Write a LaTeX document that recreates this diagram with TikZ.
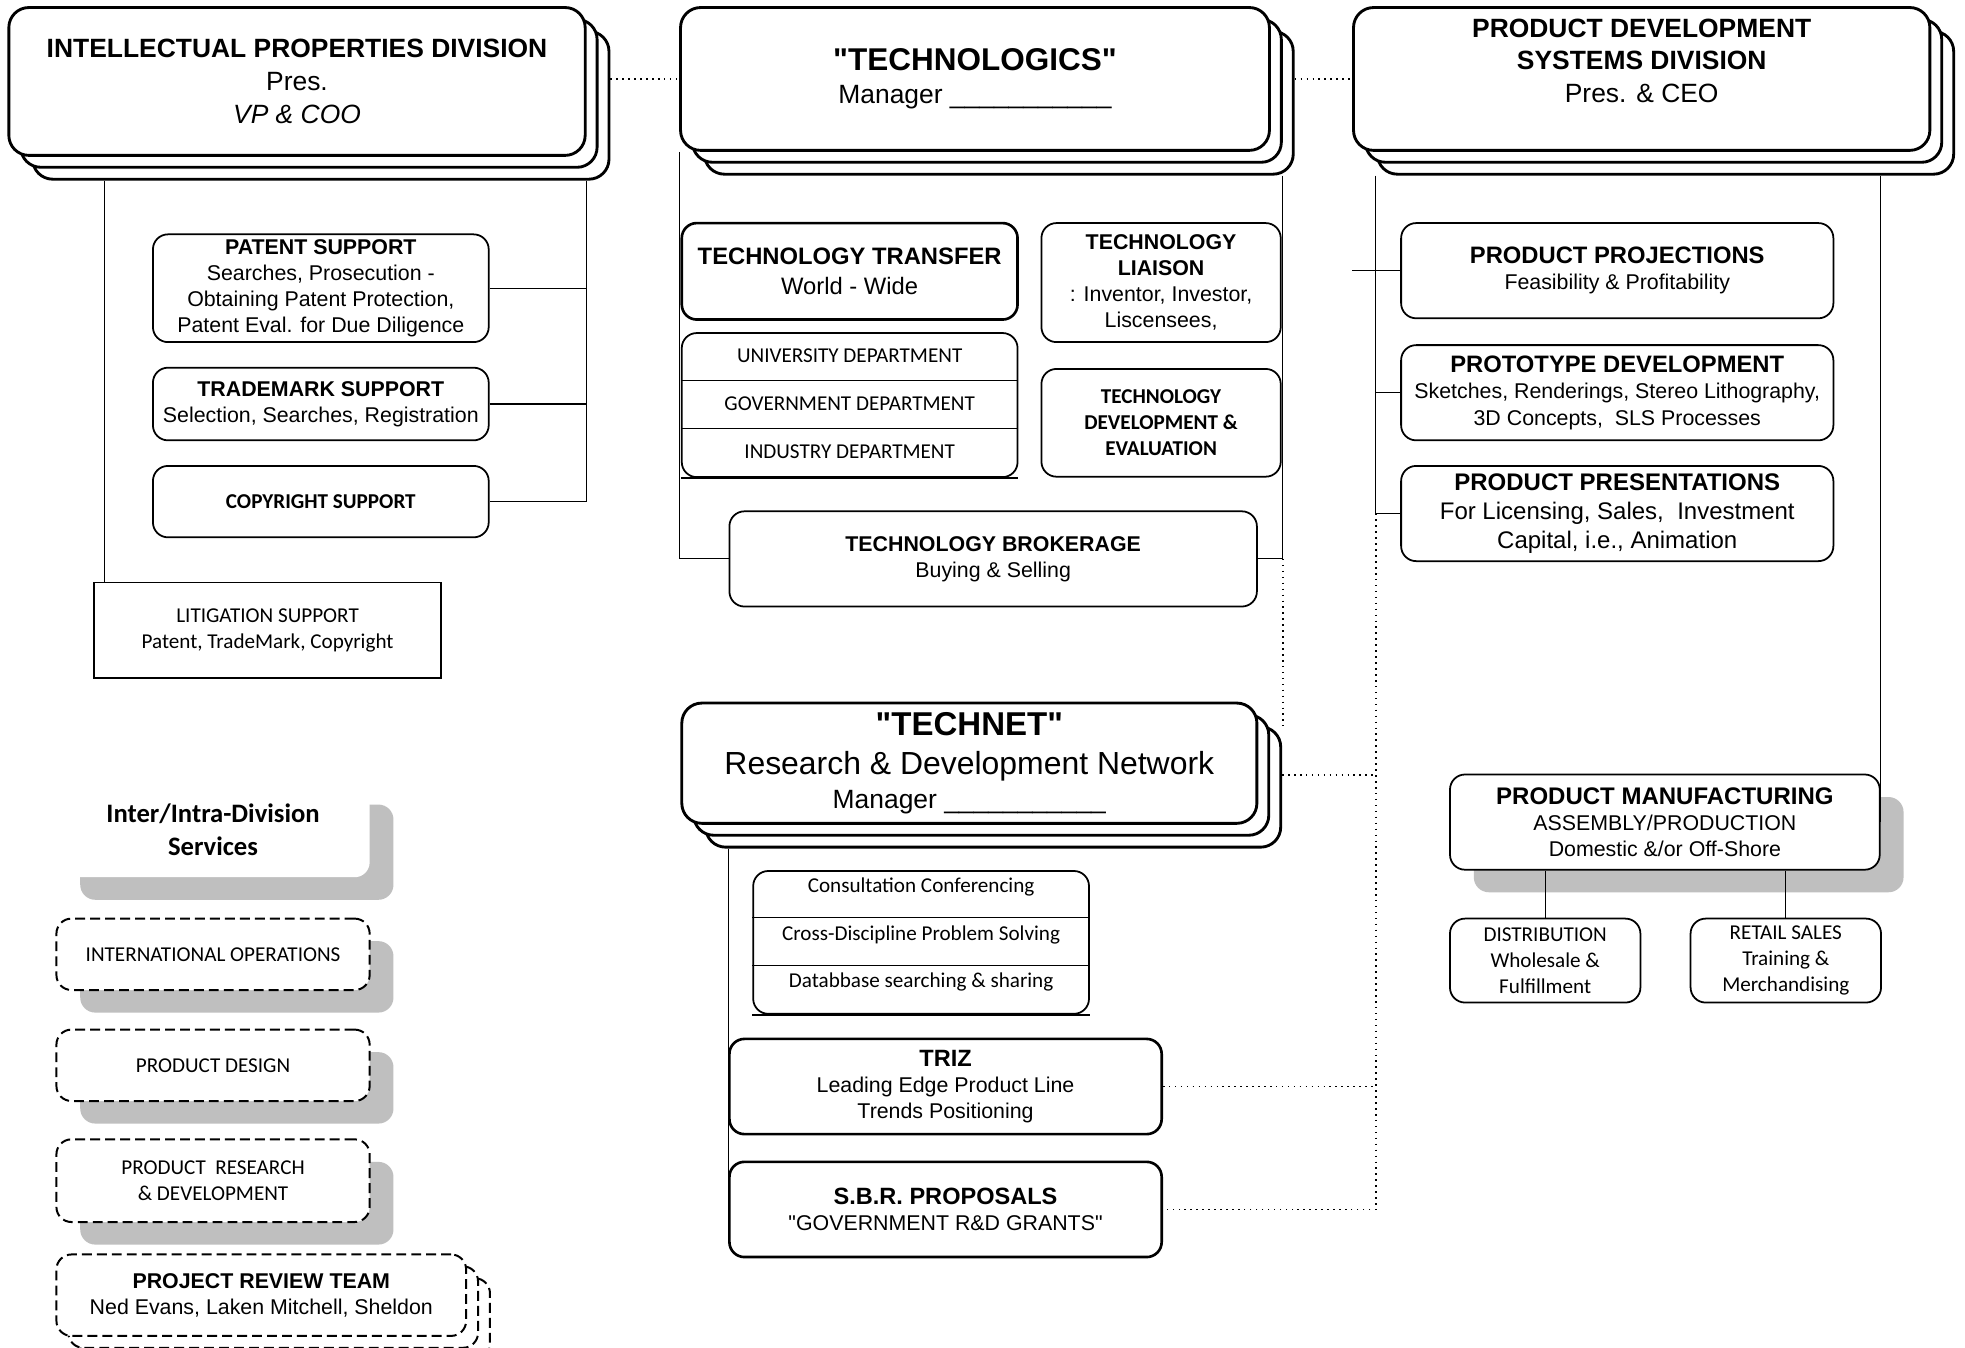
\documentclass[tikz,border=0pt]{standalone}
\usepackage{fontspec}
\setmainfont{Liberation Sans}
\newfontfamily\calibri{Carlito}
\usetikzlibrary{positioning, shadows}

\begin{document}
\begin{tikzpicture}[
    x=0.02cm, y=-0.02cm,
    node distance=0.38cm,
    headbox/.style={rectangle, draw, fill=white, rounded corners=0.32cm, line width=1.3pt, align=center, inner sep=1pt, font=\fontsize{12}{14.8}\selectfont},
    unitbox/.style={rectangle, draw, fill=white, rounded corners=0.24cm, line width=0.8pt, align=center, inner sep=1pt, font=\fontsize{9.7}{11.9}\selectfont},
    keybox/.style={unitbox, line width=1.2pt},
    calbox/.style={unitbox, font=\calibri\fontsize{9.6}{11.9}\selectfont},
    dashbox/.style={calbox, line width=0.9pt, dash pattern=on 4.5pt off 2.3pt},
    greyshadow/.style={drop shadow={shadow xshift=0.38cm, shadow yshift=-0.36cm, fill=black!25, opacity=1}},
    celltext/.style={inner sep=0pt, font=\calibri\fontsize{9.6}{11.9}\selectfont},
    wire/.style={line width=0.5pt},
    dotwire/.style={line width=0.7pt, dotted}]

    \useasboundingbox[fill=white] (0,0) rectangle (1568,1075);

    \foreach \s/\k in {19/c,9.5/b}
        \node[headbox, minimum width=9.2cm, minimum height=2.36cm] (ipd\k) at (237+\s,65+\s) {};
    \node[headbox, minimum width=9.2cm, minimum height=2.36cm] (ipd) at (237,65)
        {\textbf{INTELLECTUAL PROPERTIES DIVISION}\\Pres.\\\textit{VP \& COO}};

    \node[unitbox, minimum width=5.36cm, minimum height=1.72cm] (patent) at (256,230)
        {\textbf{PATENT SUPPORT}\\Searches, Prosecution -\\Obtaining Patent Protection,\\Patent Eval. for Due Diligence};
    \node[unitbox, minimum width=5.36cm, minimum height=1.16cm, below=of patent] (trademark)
        {\textbf{TRADEMARK SUPPORT}\\Selection, Searches, Registration};
    \node[calbox, minimum width=5.36cm, minimum height=1.14cm, below=of trademark] (copyright)
        {\textbf{COPYRIGHT SUPPORT}};
    \node[calbox, sharp corners, line width=0.6pt, minimum width=5.54cm, minimum height=1.52cm] (lit) at (213.5,503)
        {LITIGATION SUPPORT\\Patent, TradeMark, Copyright};

    \foreach \s/\k in {19/c,9.5/b}
        \node[headbox, minimum width=9.4cm, minimum height=2.28cm] (tlogic\k) at (778+\s,63+\s) {};
    \node[headbox, minimum width=9.4cm, minimum height=2.28cm] (tlogic) at (778,63)
        {{\fontsize{14.3}{17}\selectfont\bfseries \textquotedbl TECHNOLOGICS\textquotedbl}\\Manager \_\_\_\_\_\_\_\_\_\_\_};

    \node[keybox, minimum width=5.36cm, minimum height=1.54cm, font=\fontsize{10.8}{13.6}\selectfont] (transfer) at (678,216.5)
        {\textbf{TECHNOLOGY TRANSFER}\\World - Wide};
    \node[unitbox, minimum width=5.36cm, minimum height=2.3cm, below=0.18cm of transfer] (dept) {};
    \node[celltext, anchor=base] (univ) at ([yshift=-0.49cm]dept.north) {UNIVERSITY DEPARTMENT};
    \node[celltext, anchor=base] (govt) at ([yshift=-0.766cm]univ.base) {GOVERNMENT DEPARTMENT};
    \node[celltext, anchor=base] (indus) at ([yshift=-0.766cm]govt.base) {INDUSTRY DEPARTMENT};
    \node[unitbox, minimum width=3.82cm, minimum height=1.9cm] (liaison) at (926.5,225.5)
        {\textbf{TECHNOLOGY}\\\textbf{LIAISON}\\: Inventor, Investor,\\Liscensees,};
    \node[calbox, minimum width=3.82cm, minimum height=1.72cm, below=0.4cm of liaison] (tdev)
        {\textbf{TECHNOLOGY}\\\textbf{DEVELOPMENT \&}\\\textbf{EVALUATION}};
    \node[unitbox, minimum width=8.42cm, minimum height=1.52cm] (broker) at (792.5,446)
        {\textbf{TECHNOLOGY BROKERAGE}\\Buying \& Selling};

    \foreach \s/\k in {19/c,9.5/b}
        \node[headbox, minimum width=9.2cm, minimum height=2.28cm] (pdsd\k) at (1310+\s,63+\s) {};
    \node[headbox, minimum width=9.2cm, minimum height=2.28cm] (pdsd) at (1310,63)
        {\textbf{PRODUCT DEVELOPMENT}\\\textbf{SYSTEMS DIVISION}\\Pres. \& CEO\\[2pt]\mbox{}};

    \node[unitbox, minimum width=6.9cm, minimum height=1.52cm] (project) at (1290.5,216)
        {{\fontsize{10.8}{13}\selectfont\bfseries PRODUCT PROJECTIONS}\\Feasibility \& Profitability};
    \node[unitbox, minimum width=6.9cm, minimum height=1.52cm, below=0.4cm of project] (proto)
        {{\fontsize{10.8}{13}\selectfont\bfseries PROTOTYPE DEVELOPMENT}\\Sketches, Renderings, Stereo Lithography,\\3D Concepts,\ \ SLS Processes};
    \node[unitbox, minimum width=6.9cm, minimum height=1.52cm, below=of proto, font=\fontsize{10.9}{13}\selectfont] (present)
        {\textbf{PRODUCT PRESENTATIONS}\\For Licensing, Sales,\ \ Investment\\Capital, i.e., Animation};

    \node[unitbox, greyshadow, minimum width=6.86cm, minimum height=1.52cm] (manuf) at (1328.5,656)
        {{\fontsize{10.9}{13}\selectfont\bfseries PRODUCT MANUFACTURING}\\ASSEMBLY/PRODUCTION\\Domestic \&/or Off-Shore};
    \node[calbox, minimum width=3.04cm, minimum height=1.34cm] (distr) at (1233,766.5)
        {DISTRIBUTION\\Wholesale \&\\Fulfillment};
    \node[calbox, minimum width=3.04cm, minimum height=1.34cm] (retail) at (1425,766.5)
        {RETAIL SALES\\Training \&\\Merchandising};

    \foreach \s/\k in {19/c,9.5/b}
        \node[headbox, minimum width=9.18cm, minimum height=1.92cm] (technet\k) at (773.5+\s,609+\s) {};
    \node[headbox, minimum width=9.18cm, minimum height=1.92cm] (technet) at (773.5,609)
        {{\fontsize{15}{18}\selectfont\bfseries \textquotedbl TECHNET\textquotedbl}\\[3pt]{\fontsize{14.5}{17}\selectfont Research \& Development Network}\\[1pt]Manager \_\_\_\_\_\_\_\_\_\_\_};

    \node[unitbox, minimum width=5.36cm, minimum height=2.28cm] (serv) at (735,752) {};
    \node[celltext, anchor=base] (consult) at ([yshift=-0.36cm]serv.north) {Consultation Conferencing};
    \node[celltext, anchor=base] (cross) at ([yshift=-0.76cm]consult.base) {Cross-Discipline Problem Solving};
    \node[celltext, anchor=base] (dbase) at ([yshift=-0.76cm]cross.base) {Databbase searching \& sharing};
    \node[keybox, minimum width=6.9cm, minimum height=1.52cm] (triz) at (754.5,867)
        {{\fontsize{10.7}{13}\selectfont\bfseries TRIZ}\\Leading Edge Product Line\\Trends Positioning};
    \node[keybox, minimum width=6.9cm, minimum height=1.52cm, below=0.4cm of triz] (sbr)
        {{\fontsize{10.7}{13}\selectfont\bfseries S.B.R. PROPOSALS}\\\textquotedbl GOVERNMENT R\&D GRANTS\textquotedbl};

    \node[calbox, draw=none, greyshadow, minimum width=5cm, minimum height=1.52cm, font=\calibri\fontsize{12.1}{14.7}\selectfont] (services) at (170,662)
        {\textbf{Inter/Intra-Division}\\\textbf{Services}};
    \node[dashbox, greyshadow, minimum width=5cm, minimum height=1.14cm] (intl) at (170,761.5) {INTERNATIONAL OPERATIONS};
    \node[dashbox, greyshadow, minimum width=5cm, minimum height=1.14cm, below=0.6cm of intl] (design) {PRODUCT DESIGN};
    \node[dashbox, greyshadow, minimum width=5cm, minimum height=1.32cm, below=0.58cm of design] (research)
        {PRODUCT\ \ RESEARCH\\\& DEVELOPMENT};
    \foreach \s/\k in {19/c,9.5/b}
        \node[dashbox, minimum width=6.54cm, minimum height=1.3cm] (review\k) at (208.5+\s,1033.5+\s) {};
    \node[dashbox, font=\fontsize{9.7}{11.9}\selectfont, minimum width=6.54cm, minimum height=1.3cm] (review) at (208.5,1033.5)
        {\textbf{PROJECT REVIEW TEAM}\\Ned Evans, Laken Mitchell, Sheldon};

    \draw[wire] ([xshift=0.18cm]lit.north west |- ipdc.south) -- ([xshift=0.18cm]lit.north west);
    \draw[wire] (ipd.east |- ipdc.south) -- (ipd.east |- copyright.east) -- (copyright.east);
    \draw[wire] (patent.east) -- (patent.east -| ipd.east);
    \draw[wire] (trademark.east) -- (trademark.east -| ipd.east);

    \draw[wire] (tlogic.south west) |- (broker.west);
    \draw[wire] (tlogicb.east |- tlogicc.south) -- (tlogicb.east |- broker.east) -- (broker.east);
    \draw[wire] ([yshift=-0.766cm]dept.north west) -- ([yshift=-0.766cm]dept.north east);
    \draw[wire] ([yshift=-1.532cm]dept.north west) -- ([yshift=-1.532cm]dept.north east);
    \draw[line width=0.8pt] (dept.south west) -- (dept.south east);

    \draw[wire] (pdsdc.south west) -- (pdsdc.west |- present.west) -- (present.west);
    \draw[wire] (proto.west -| pdsdc.west) -- (proto.west);
    \draw[wire] (project.west -| pdsd.west) -- (project.west);
    \draw[wire] (manuf.east |- pdsdc.south) -- (manuf.east);
    \draw[wire] (manuf.south -| distr.north) -- (distr.north);
    \draw[wire] (manuf.south -| retail.north) -- (retail.north);

    \foreach \r in {1,2}
        \draw[wire] ([yshift=-0.76cm*\r]serv.north west) -- ([yshift=-0.76cm*\r]serv.north east);
    \draw[line width=0.8pt] (serv.south west) -- (serv.south east);
    \draw[wire] (triz.west |- technetc.south) -- (sbr.west);

    \draw[dotwire] (ipdc.east |- tlogic.west) -- (tlogic.west);
    \draw[dotwire] (tlogicc.east |- pdsd.west) -- (pdsd.west);
    \draw[dotwire] (tlogicb.east |- broker.east) -- (tlogicb.east |- technetc.north);
    \draw[dotwire] (technetc.east |- technetb.east) -- (technetb.east -| pdsdc.west);
    \draw[dotwire] (pdsdc.west |- present.west) -- (pdsdc.west |- sbr.east) -- (sbr.east);
    \draw[dotwire] (triz.east) -- (triz.east -| pdsdc.west);

\end{tikzpicture}
\end{document}
